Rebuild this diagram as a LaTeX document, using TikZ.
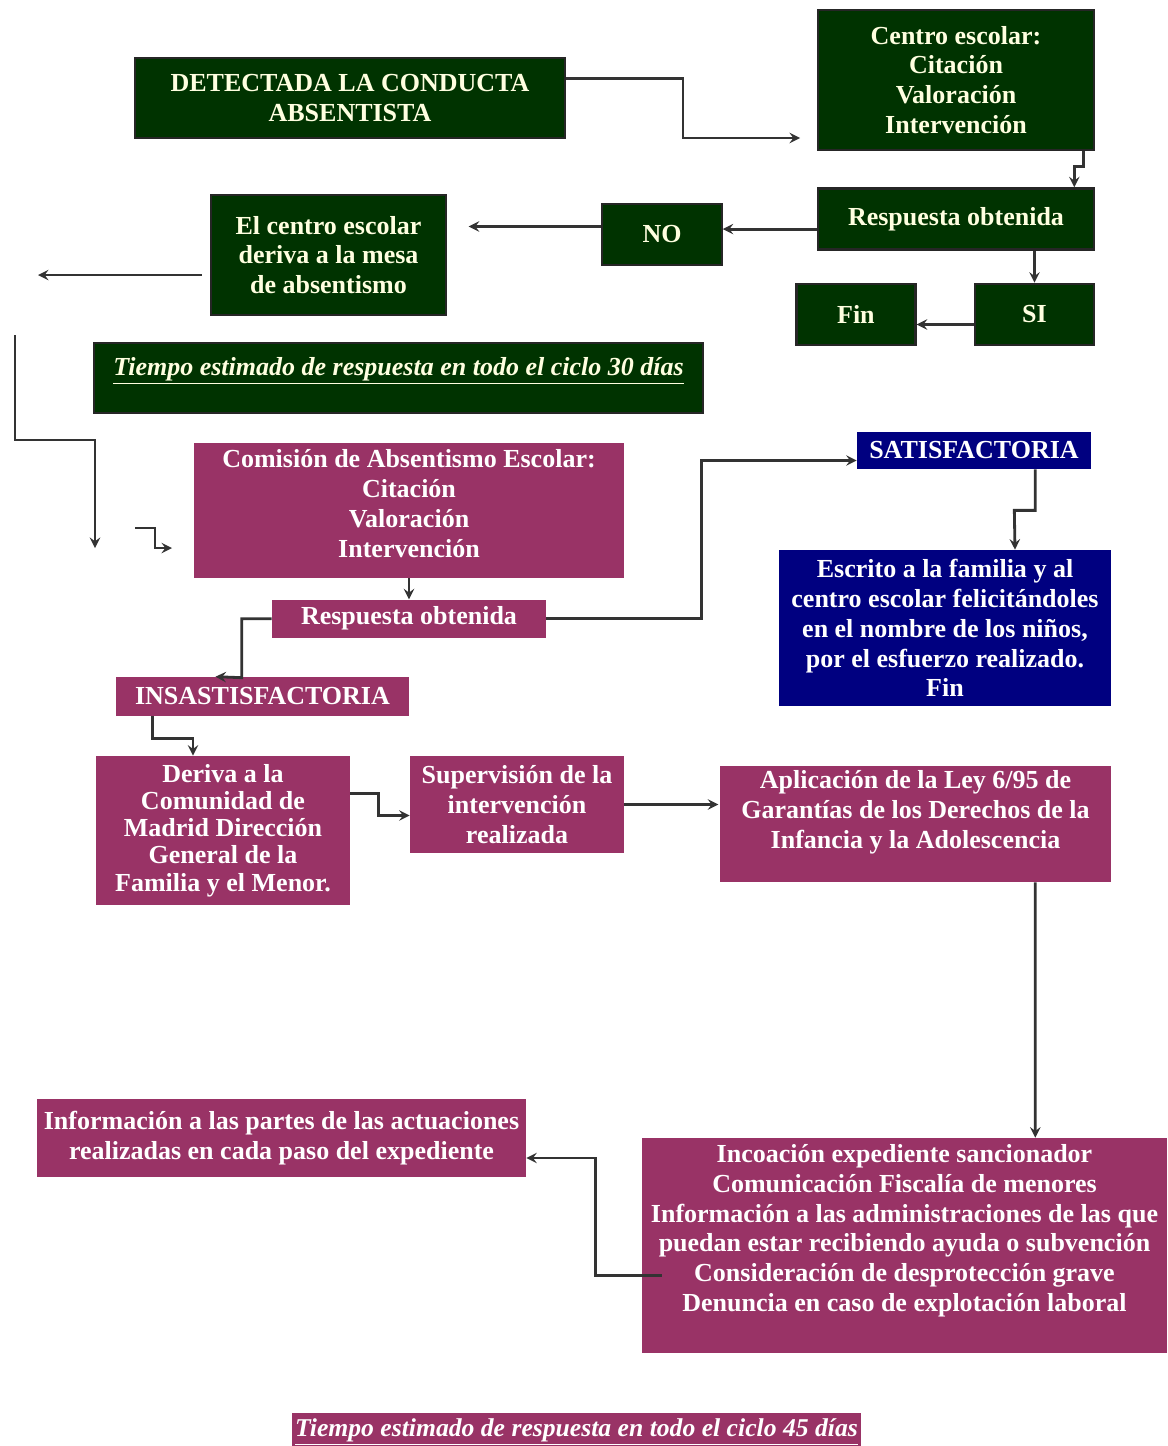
\documentclass[tikz,border=0pt]{standalone}
\usepackage{fontspec}
\setmainfont{Liberation Serif}
\usetikzlibrary{calc,positioning}

\definecolor{boxgreen}{HTML}{003300}
\definecolor{boxplum}{HTML}{993366}
\definecolor{boxnavy}{HTML}{000080}
\definecolor{paletext}{HTML}{FFFFE0}

\begin{document}
\begin{tikzpicture}[x=0.02cm, y=-0.02cm,
    greenbox/.style={draw=black!85, line width=1.5pt, fill=boxgreen, text=paletext, align=center, inner sep=1pt},
    plumbox/.style={fill=boxplum, text=white, align=center, inner sep=1pt},
    navybox/.style={fill=boxnavy, text=white, align=center, inner sep=1pt},
    arr/.style={->, >=stealth, line width=1.6pt, black!80},
    font=\bfseries\fontsize{14.8}{17}\selectfont]
  \clip (0,0) rectangle (1167,1446);

  \node[greenbox, minimum width=8.6cm, minimum height=1.6cm] (det) at (350,98) {DETECTADA LA CONDUCTA\\ABSENTISTA};
  \node[greenbox, minimum width=5.52cm, minimum height=2.8cm] (centro) at (956,80) {Centro escolar:\\Citación\\Valoración\\Intervención};
  \node[greenbox, minimum width=5.52cm, minimum height=1.22cm, below=0.72cm of centro] (resp1) {Respuesta obtenida};
  \node[greenbox, minimum width=2.4cm, minimum height=1.22cm] (no) at (662,234.5) {NO};
  \node[greenbox, minimum width=4.7cm, minimum height=2.4cm] (deriva) at (328.5,255) {El centro escolar\\deriva a la mesa\\de absentismo};
  \node[greenbox, minimum width=2.38cm, minimum height=1.22cm] (si) at (1034.5,314.5) {SI};
  \node[greenbox, minimum width=2.38cm, minimum height=1.22cm, left=1.14cm of si] (fin) {Fin};
  \node[greenbox, minimum width=12.18cm, minimum height=1.4cm, text depth=0.45cm, font=\bfseries\itshape\fontsize{14.8}{17}\selectfont] (t30) at (398.5,378) {\underline{Tiempo estimado de respuesta en todo el ciclo 30 días}};

  \node[plumbox, minimum width=8.6cm, minimum height=2.7cm, text depth=0.28cm] (comision) at (409,510.5) {Comisión de Absentismo Escolar:\\Citación\\Valoración\\Intervención};
  \node[plumbox, minimum width=5.48cm, minimum height=0.76cm, below=0.42cm of comision] (resp2) {Respuesta obtenida};
  \node[plumbox, minimum width=5.86cm, minimum height=0.78cm] (insat) at (262.5,696.5) {INSASTISFACTORIA};
  \node[navybox, minimum width=4.68cm, minimum height=0.74cm] (satisf) at (974,450.5) {SATISFACTORIA};
  \node[navybox, minimum width=6.64cm, minimum height=3.12cm] (escrito) at (945,628) {Escrito a la familia y al\\centro escolar felicitándoles\\en el nombre de los niños,\\por el esfuerzo realizado.\\Fin};
  \node[plumbox, minimum width=5.08cm, minimum height=2.98cm, font=\bfseries\fontsize{14.8}{15.5}\selectfont] (derivacm) at (223,830.5) {Deriva a la\\Comunidad de\\Madrid Dirección\\General de la\\Familia y el Menor.};
  \node[plumbox, minimum width=4.28cm, minimum height=1.94cm] (superv) at (517,804.5) {Supervisión de la\\intervención\\realizada};
  \node[plumbox, minimum width=7.82cm, minimum height=2.32cm, text depth=0.58cm] (aplic) at (915.5,824) {Aplicación de la Ley 6/95 de\\Garantías de los Derechos de la\\Infancia y la Adolescencia};
  \node[plumbox, minimum width=9.78cm, minimum height=1.56cm] (info) at (281.5,1138) {Información a las partes de las actuaciones\\realizadas en cada paso del expediente};
  \node[plumbox, minimum width=10.5cm, minimum height=4.3cm, text depth=0.7cm] (incoac) at (904.5,1245.5) {Incoación expediente sancionador\\Comunicación Fiscalía de menores\\Información a las administraciones de las que\\puedan estar recibiendo ayuda o subvención\\Consideración de desprotección grave\\Denuncia en caso de explotación laboral};
  \node[plumbox, minimum width=11.38cm, minimum height=1.1cm, text depth=0.5cm, font=\bfseries\itshape\fontsize{14.6}{17}\selectfont] (t45) at (576.5,1440) {\underline{Tiempo estimado de respuesta en todo el ciclo 45 días}};

  \coordinate (cin) at (800,138);
  \coordinate (dout) at (38,275);
  \coordinate (ltop) at (15,335);
  \coordinate (ldown) at (95,548);
  \coordinate (jtop) at (135,528);
  \coordinate (jend) at (172,548);

  \draw[arr] ($(det.north east)+(0,22)$) -| ($(cin)+(-117,0)$) -- (cin);
  \draw[arr] ($(centro.south east)+(-12,0)$) -- ++(0,15) -- ++(-9,0) -- ++(0,21);
  \draw[arr] ($(resp1.west)+(0,10)$) -- ++(-94,0);
  \draw[arr] ($(no.west)+(0,-8)$) -- ++(-132,0);
  \draw[arr] ($(deriva.west)+(-8,20)$) -- (dout);
  \draw[arr] (resp1.south -| si.north) -- (si.north);
  \draw[arr] ($(si.west)+(0,10)$) -- ($(fin.east)+(0,10)$);
  \draw[arr] (ltop) -- (15,440) -| (ldown);
  \draw[arr] (jtop) -- ++(20,0) |- (jend);
  \draw[arr] (comision.south) -- (resp2.north);
  \draw[arr] (resp2.east) -- ++(155,0) |- ($(satisf.west)+(0,10)$);
  \draw[arr] ($(satisf.south east)+(-56,0)$) -- ++(0,41) -- ++(-21,0) -- ($(escrito.north)+(70,0)$);
  \draw[arr] (resp2.west) -- ++(-30,0) -- ++(0,59) -- ($(insat.north)+(-47,0)$);
  \draw[arr] ($(insat.south)+(-110,0)$) -- ++(0,22) -| ($(derivacm.north)+(-30,0)$);
  \draw[arr] ($(derivacm.east)+(0,-37)$) -- ++(28,0) |- ($(superv.west)+(0,11)$);
  \draw[arr] (superv.east) -- ++(94,0);
  \draw[arr] ($(aplic.south east)+(-76,0)$) -- ($(incoac.north east)+(-132,0)$);
  \draw[arr] ($(incoac.west)+(20,30)$) -- ++(-66,0) |- ($(info.east)+(0,20)$);
\end{tikzpicture}
\end{document}
